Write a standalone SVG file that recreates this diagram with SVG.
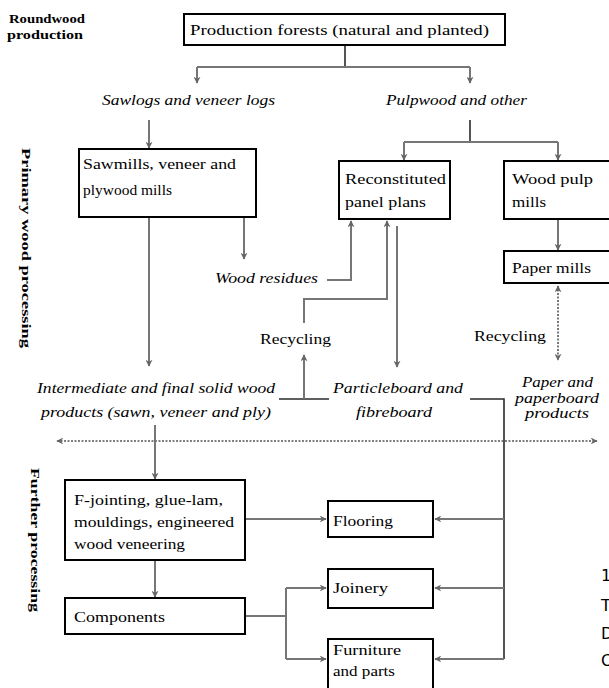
<svg xmlns="http://www.w3.org/2000/svg" width="609" height="688" viewBox="0 0 609 688">
  <style>
    .box { fill: #fff; stroke: #000; stroke-width: 2; }
    .t { font-family: "Liberation Serif", "Times New Roman", serif; font-size: 15px; fill: #000; }
    .it { font-family: "Liberation Serif", "Times New Roman", serif; font-size: 14px; font-style: italic; fill: #000; }
    .side { font-family: "Liberation Serif", "Times New Roman", serif; font-size: 13px; font-weight: bold; fill: #000; }
    .edge { font-family: "DejaVu Sans", "Liberation Sans", sans-serif; font-size: 16px; fill: #000; }
    .c { fill: none; stroke: #767676; stroke-width: 2; }
    .k { fill: none; stroke: #2a2a2a; stroke-width: 1.6; }
    .dot { fill: none; stroke: #555; stroke-width: 1.6; stroke-dasharray: 2 1.5; }
    .a { marker-end: url(#ah); }
    .ab { marker-start: url(#ahs); marker-end: url(#ah); }
  </style>
  <defs>
    <marker id="ah" viewBox="0 0 10 10" refX="9" refY="5" markerWidth="7" markerHeight="7" markerUnits="userSpaceOnUse" orient="auto">
      <path d="M0,0 L10,5 L0,10 L3,5 Z" fill="#666"/>
    </marker>
    <marker id="ahs" viewBox="0 0 10 10" refX="1" refY="5" markerWidth="7" markerHeight="7" markerUnits="userSpaceOnUse" orient="auto">
      <path d="M10,0 L0,5 L10,10 L7,5 Z" fill="#666"/>
    </marker>
  </defs>

  <rect width="609" height="688" fill="#fff"/>

  <!-- stage labels -->
  <g id="stage-labels">
    <text class="side" x="9" y="23" textLength="76" lengthAdjust="spacingAndGlyphs">Roundwood</text>
    <text class="side" x="7" y="39" textLength="76" lengthAdjust="spacingAndGlyphs">production</text>
    <text class="side" transform="translate(22,148) rotate(90)" textLength="200" lengthAdjust="spacingAndGlyphs">Primary wood processing</text>
    <text class="side" transform="translate(31,468) rotate(90)" textLength="144" lengthAdjust="spacingAndGlyphs">Further processing</text>
  </g>

  <!-- connectors -->
  <g id="connectors">
    <path class="k" d="M345,45 V67"/>
    <path class="c" d="M197,67 H470"/>
    <path class="c a" d="M197,67 V83"/>
    <path class="c a" d="M470,67 V83"/>

    <path class="c a" d="M149,120 V148"/>
    <path class="k" d="M470,120 V142"/>
    <path class="c" d="M404,142 H558"/>
    <path class="c a" d="M404,142 V160"/>
    <path class="c a" d="M558,142 V160"/>

    <path class="c a" d="M149,217 V366"/>
    <path class="c a" d="M244,217 V259"/>
    <path class="c a" d="M327,280 H351 V221"/>
    <path class="c a" d="M304,323 V299 H387 V221"/>
    <path class="c a" d="M397,226 V367"/>
    <path class="c a" d="M558,219 V250"/>

    <path class="k" d="M279,399 H329"/>
    <path class="c a" d="M304,399 V355"/>
    <path class="dot ab" d="M558,286 V360"/>

    <path class="k" d="M470,399 H504 V659"/>
    <path class="c a" d="M504,519 H435"/>
    <path class="c a" d="M504,588 H435"/>
    <path class="c a" d="M504,659 H435"/>

    <path class="dot ab" d="M57,441 H597"/>

    <path class="c a" d="M155,425 V479"/>
    <path class="c a" d="M245,519 H326"/>
    <path class="c a" d="M155,560 V597"/>
    <path class="c" d="M245,616 H286"/>
    <path class="c" d="M286,588 V659"/>
    <path class="c a" d="M286,588 H326"/>
    <path class="c a" d="M286,659 H326"/>
  </g>

  <!-- free-standing flow labels -->
  <g id="flow-labels">
    <text class="it" x="102" y="105" textLength="173" lengthAdjust="spacingAndGlyphs">Sawlogs and veneer logs</text>
    <text class="it" x="386" y="105" textLength="141" lengthAdjust="spacingAndGlyphs">Pulpwood and other</text>
    <text class="it" x="215" y="283" textLength="103" lengthAdjust="spacingAndGlyphs">Wood residues</text>
    <text class="t" x="260" y="344" textLength="71" lengthAdjust="spacingAndGlyphs">Recycling</text>
    <text class="t" x="474" y="341" textLength="72" lengthAdjust="spacingAndGlyphs">Recycling</text>
    <text class="it" x="37" y="393" textLength="238" lengthAdjust="spacingAndGlyphs">Intermediate and final solid wood</text>
    <text class="it" x="41" y="417" textLength="230" lengthAdjust="spacingAndGlyphs">products (sawn, veneer and ply)</text>
    <text class="it" x="333" y="393" textLength="130" lengthAdjust="spacingAndGlyphs">Particleboard and</text>
    <text class="it" x="356" y="417" textLength="76" lengthAdjust="spacingAndGlyphs">fibreboard</text>
    <text class="it" x="522" y="387" textLength="71" lengthAdjust="spacingAndGlyphs">Paper and</text>
    <text class="it" x="515" y="403" textLength="84" lengthAdjust="spacingAndGlyphs">paperboard</text>
    <text class="it" x="525" y="418" textLength="64" lengthAdjust="spacingAndGlyphs">products</text>
  </g>

  <!-- nodes -->
  <g id="forests">
    <rect class="box" x="184" y="14" width="321" height="31"/>
    <text class="t" x="190" y="35" textLength="299" lengthAdjust="spacingAndGlyphs">Production forests (natural and planted)</text>
  </g>
  <g id="sawmills">
    <rect class="box" x="79" y="149" width="177" height="68"/>
    <text class="t" x="83" y="169" textLength="153" lengthAdjust="spacingAndGlyphs">Sawmills, veneer and</text>
    <text class="t" x="83" y="195" textLength="89" lengthAdjust="spacingAndGlyphs">plywood mills</text>
  </g>
  <g id="panel-plants">
    <rect class="box" x="339" y="161" width="111" height="58"/>
    <text class="t" x="345" y="184" textLength="101" lengthAdjust="spacingAndGlyphs">Reconstituted</text>
    <text class="t" x="345" y="207" textLength="81" lengthAdjust="spacingAndGlyphs">panel plans</text>
  </g>
  <g id="pulp-mills">
    <rect class="box" x="504" y="161" width="112" height="58"/>
    <text class="t" x="512" y="184" textLength="81" lengthAdjust="spacingAndGlyphs">Wood pulp</text>
    <text class="t" x="512" y="207" textLength="34" lengthAdjust="spacingAndGlyphs">mills</text>
  </g>
  <g id="paper-mills">
    <rect class="box" x="504" y="251" width="112" height="32"/>
    <text class="t" x="512" y="273" textLength="79" lengthAdjust="spacingAndGlyphs">Paper mills</text>
  </g>
  <g id="secondary">
    <rect class="box" x="65" y="480" width="180" height="80"/>
    <text class="t" x="74" y="505" textLength="149" lengthAdjust="spacingAndGlyphs">F-jointing, glue-lam,</text>
    <text class="t" x="74" y="527" textLength="160" lengthAdjust="spacingAndGlyphs">mouldings, engineered</text>
    <text class="t" x="74" y="549" textLength="111" lengthAdjust="spacingAndGlyphs">wood veneering</text>
  </g>
  <g id="flooring">
    <rect class="box" x="328" y="501" width="105" height="36"/>
    <text class="t" x="333" y="526" textLength="60" lengthAdjust="spacingAndGlyphs">Flooring</text>
  </g>
  <g id="components">
    <rect class="box" x="65" y="598" width="180" height="36"/>
    <text class="t" x="74" y="622" textLength="91" lengthAdjust="spacingAndGlyphs">Components</text>
  </g>
  <g id="joinery">
    <rect class="box" x="328" y="569" width="105" height="39"/>
    <text class="t" x="333" y="593" textLength="55" lengthAdjust="spacingAndGlyphs">Joinery</text>
  </g>
  <g id="furniture">
    <rect class="box" x="328" y="639" width="105" height="60"/>
    <text class="t" x="333" y="655" textLength="68" lengthAdjust="spacingAndGlyphs">Furniture</text>
    <text class="t" x="333" y="676" textLength="62" lengthAdjust="spacingAndGlyphs">and parts</text>
  </g>

  <!-- characters at the right margin -->
  <g id="margin-text">
    <text class="edge" x="601" y="581">1</text>
    <text class="edge" x="601" y="611">T</text>
    <text class="edge" x="601" y="639">D</text>
    <text class="edge" x="601" y="666">C</text>
  </g>
</svg>
